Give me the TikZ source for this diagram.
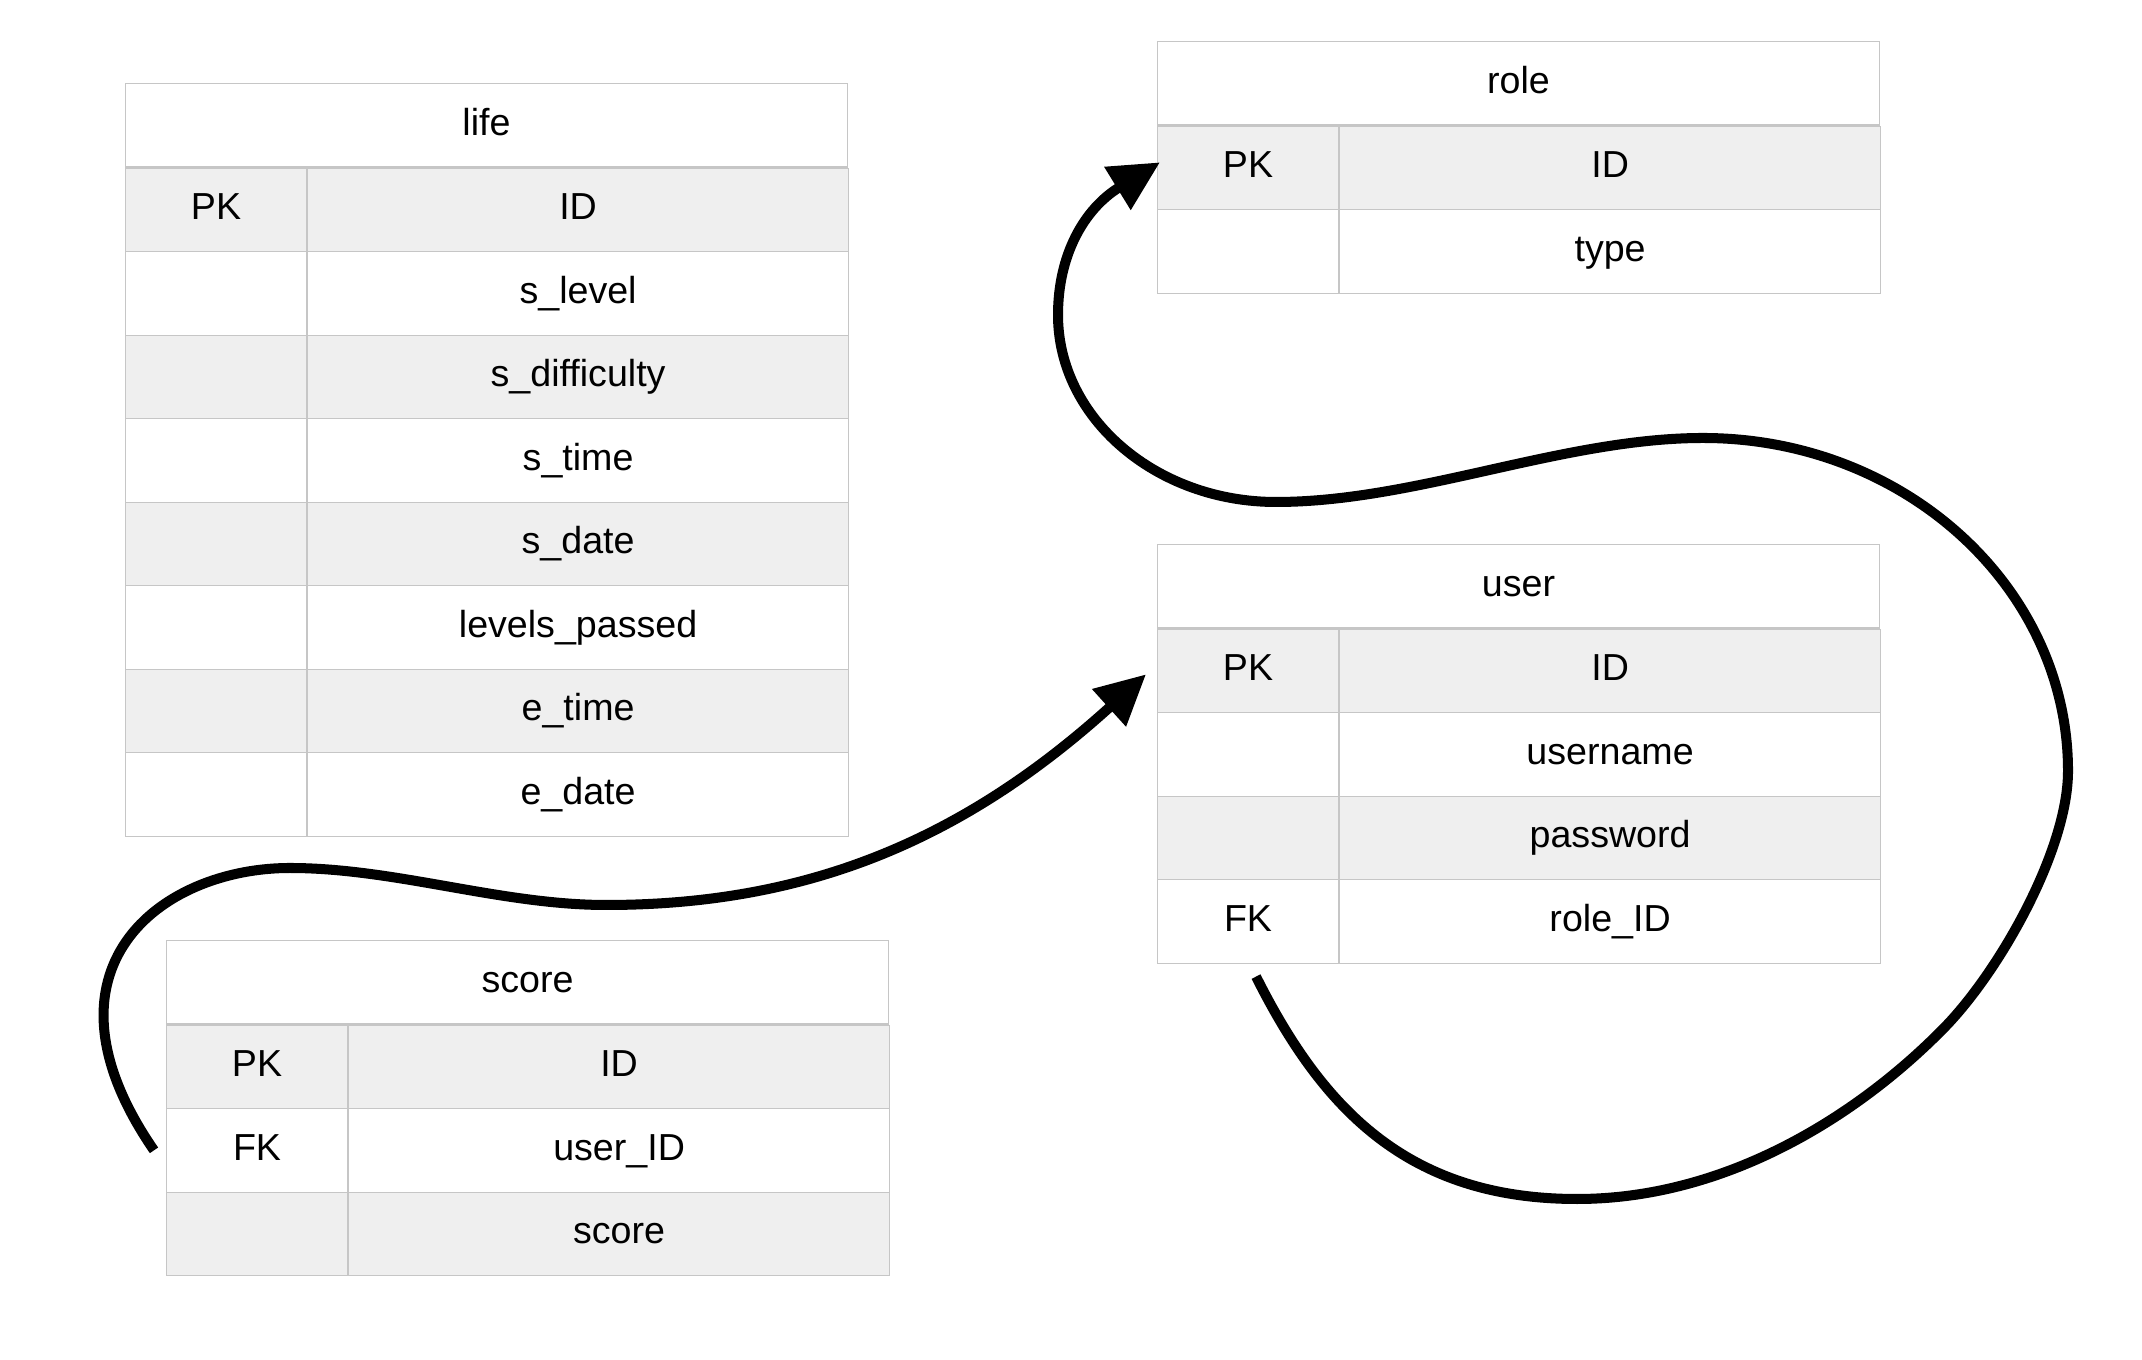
\documentclass[tikz,border=0pt]{standalone}
\usepackage{fontspec}
\setmainfont{Liberation Sans}
\usetikzlibrary{arrows.meta}

\definecolor{cellline}{RGB}{198,198,198}
\definecolor{rowgray}{RGB}{239,239,239}
\newcommand\tabfont{\fontsize{10.7}{12}\selectfont}

\tikzset{
	cell/.style={draw=cellline, line width=0.3pt, inner sep=0pt,
		text height=0.716em, text depth=0.14em,
		minimum height=8.35mm, anchor=north west, font=\tabfont},
	headcell/.style={cell, minimum width=72.2mm},
	keycell/.style={cell, minimum width=18.1mm},
	fieldcell/.style={cell, minimum width=54.1mm},
	relation/.style={line width=2.85pt, -{Triangle[length=5mm, width=4.8mm]}}
}

\begin{document}
\begin{tikzpicture}
	\useasboundingbox (0,0) rectangle (21.42,13.6);
	
	% table life
	\node[headcell] (life) at (1.25,12.77) {life};
	\foreach \k/\f [count=\i] in {PK/ID, /s\_level, /s\_difficulty, /s\_time, /s\_date, /levels\_passed, /e\_time, /e\_date}{
		\pgfmathtruncatemacro\rowtint{mod(\i,2)*100}
		\node[keycell, fill=rowgray!\rowtint, yshift={-(\i-1)*8.35mm}] (life-k\i) at (life.south west) {\k};
		\node[fieldcell, fill=rowgray!\rowtint] (life-f\i) at (life-k\i.north east) {\f};
	}
	
	% table role
	\node[headcell] (role) at (11.57,13.19) {role};
	\foreach \k/\f [count=\i] in {PK/ID, /type}{
		\pgfmathtruncatemacro\rowtint{mod(\i,2)*100}
		\node[keycell, fill=rowgray!\rowtint, yshift={-(\i-1)*8.35mm}] (role-k\i) at (role.south west) {\k};
		\node[fieldcell, fill=rowgray!\rowtint] (role-f\i) at (role-k\i.north east) {\f};
	}
	
	% table user
	\node[headcell] (user) at (11.57,8.16) {user};
	\foreach \k/\f [count=\i] in {PK/ID, /username, /password, FK/role\_ID}{
		\pgfmathtruncatemacro\rowtint{mod(\i,2)*100}
		\node[keycell, fill=rowgray!\rowtint, yshift={-(\i-1)*8.35mm}] (user-k\i) at (user.south west) {\k};
		\node[fieldcell, fill=rowgray!\rowtint] (user-f\i) at (user-k\i.north east) {\f};
	}
	
	% table score
	\node[headcell] (score) at (1.66,4.20) {score};
	\foreach \k/\f [count=\i] in {PK/ID, FK/user\_ID, /score}{
		\pgfmathtruncatemacro\rowtint{mod(\i,2)*100}
		\node[keycell, fill=rowgray!\rowtint, yshift={-(\i-1)*8.35mm}] (score-k\i) at (score.south west) {\k};
		\node[fieldcell, fill=rowgray!\rowtint] (score-f\i) at (score-k\i.north east) {\f};
	}
	
	% score.user_ID -> user.ID
	\draw[relation] ([xshift=-1.2mm]score-k2.west)
		.. controls (0.29,3.91) and (1.60,4.92) .. (2.90,4.92)
		.. controls (3.95,4.92) and (5.01,4.55) .. (6.06,4.55)
		.. controls (8.06,4.55) and (9.62,5.19) .. ([shift={(-1.1mm,-0.35mm)}]user-k1.west);
	
	% user.role_ID -> role.ID
	\draw[relation] ([shift={(0.8mm,-1.3mm)}]user-k4.south)
		.. controls (13.22,2.52) and (14.07,1.61) .. (15.77,1.61)
		.. controls (17.27,1.61) and (18.58,2.45) .. (19.42,3.30)
		.. controls (19.98,3.86) and (20.68,5.09) .. (20.68,5.89)
		.. controls (20.68,7.73) and (19.04,9.22) .. (17.03,9.22)
		.. controls (15.63,9.22) and (14.16,8.58) .. (12.76,8.58)
		.. controls (11.56,8.58) and (10.58,9.42) .. (10.58,10.45)
		.. controls (10.58,11.05) and (10.84,11.51) .. ([shift={(0.3mm,0.55mm)}]role-k1.west);
\end{tikzpicture}
\end{document}
